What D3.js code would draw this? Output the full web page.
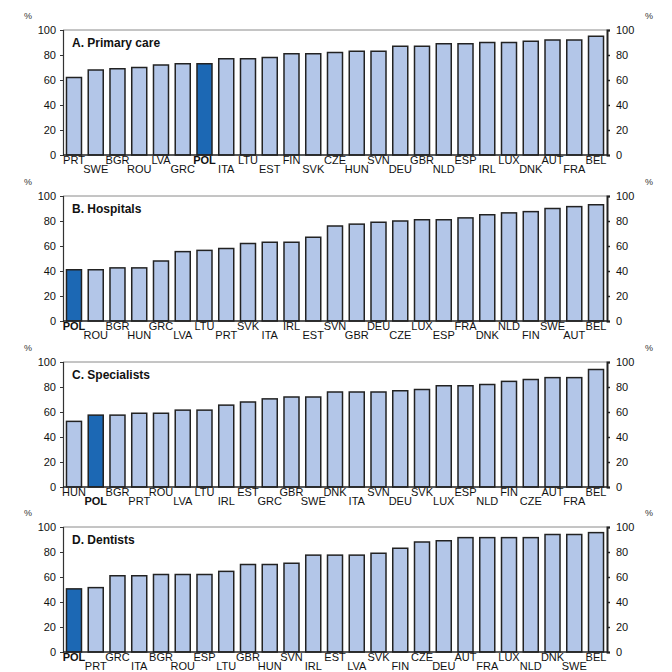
<!DOCTYPE html>
<html><head><meta charset="utf-8">
<script src="https://cdn.jsdelivr.net/npm/d3@7"></script>
<style>body{margin:0;background:#fff}svg{display:block}text{font-family:"Liberation Sans",Arial,sans-serif}</style>
</head><body>
<script>
const titles = ["A. Primary care","B. Hospitals","C. Specialists","D. Dentists"];
const countriesA = ["PRT","SWE","BGR","ROU","LVA","GRC","POL","ITA","LTU","EST","FIN","SVK","CZE","HUN","SVN","DEU","GBR","NLD","ESP","IRL","LUX","DNK","AUT","FRA","BEL"];
const valuesA = [62,68,69,70,72,73,73,77,77,78,81,81,82,83,83,87,87,89,89,90,90,91,92,92,95];
const countriesB = ["POL","ROU","BGR","HUN","GRC","LVA","LTU","PRT","SVK","ITA","IRL","EST","SVN","GBR","DEU","CZE","LUX","ESP","FRA","DNK","NLD","FIN","SWE","AUT","BEL"];
const valuesB = [41,41,42.5,42.5,48,55.5,56.5,58,62,63,63,67,76,77.5,79,80,81,81,82.5,85,86.5,87.5,90,91.5,93];
const countriesC = ["HUN","POL","BGR","PRT","ROU","LVA","LTU","IRL","EST","GRC","GBR","SWE","DNK","ITA","SVN","DEU","SVK","LUX","ESP","NLD","FIN","CZE","AUT","FRA","BEL"];
const valuesC = [52.5,57.5,57.5,59,59,61.5,61.5,65.5,68,70.5,72,72,76,76,76,77,78,81,81,82,84.5,86,87.5,87.5,94];
const countriesD = ["POL","PRT","GRC","ITA","BGR","ROU","ESP","LTU","GBR","HUN","SVN","IRL","EST","LVA","SVK","FIN","CZE","DEU","AUT","FRA","LUX","NLD","DNK","SWE","BEL"];
const valuesD = [50.5,51.5,61,61,62,62,62,64.5,70,70,71,77.5,77.5,77.5,79,83,88,89,91.5,91.5,91.5,91.5,94,94,95.5];
const yTicks = [0,20,40,60,80,100];
const highlight = "POL";

const panels = [
  {title:titles[0], c:countriesA, v:valuesA},
  {title:titles[1], c:countriesB, v:valuesB},
  {title:titles[2], c:countriesC, v:valuesC},
  {title:titles[3], c:countriesD, v:valuesD}
];

const W=672,H=672;
const svg=d3.select("body").append("svg").attr("width",W).attr("height",H);
const left=63,right=607,ph=125;
const tops=[30,196,362,527];

panels.forEach((p,i)=>{
  const top=tops[i], bottom=top+ph;
  const g=svg.append("g");
  const x=d3.scaleBand().domain(p.c).range([left,right]).paddingInner(0.31).paddingOuter(0.16);
  const y=d3.scaleLinear().domain([0,100]).range([bottom,top]);

  // frame top
  g.append("line").attr("x1",left).attr("x2",right).attr("y1",top).attr("y2",top).attr("stroke","#8a8a8a").attr("stroke-width",1);

  // bars
  g.selectAll("rect.bar").data(p.c.map((c,j)=>({c,v:p.v[j]}))).join("rect")
    .attr("x",d=>x(d.c)).attr("width",x.bandwidth())
    .attr("y",d=>y(d.v)).attr("height",d=>y(0)-y(d.v))
    .attr("fill",d=>d.c===highlight?"#1c68b4":"#b3c6e8")
    .attr("stroke","#222").attr("stroke-width",1.5);

  // left axis
  const la=g.append("g").attr("transform",`translate(${left},0)`)
    .call(d3.axisLeft(y).tickValues(yTicks).tickSize(3).tickPadding(4));
  la.select(".domain").attr("stroke","#333").attr("stroke-width",1.2);
  la.selectAll("text").attr("font-size",11).attr("fill","#111").style("font-family","'Liberation Sans',Arial,sans-serif");
  la.selectAll(".tick line").attr("stroke","#333");

  // right axis
  const ra=g.append("g").attr("transform",`translate(${right},0)`)
    .call(d3.axisRight(y).tickValues(yTicks).tickSize(3).tickPadding(6));
  ra.select(".domain").attr("stroke","#222").attr("stroke-width",2);
  ra.selectAll("text").attr("font-size",11).attr("fill","#111").style("font-family","'Liberation Sans',Arial,sans-serif");
  ra.selectAll(".tick line").attr("stroke","#222").attr("stroke-width",1.5);

  // bottom axis line
  g.append("line").attr("x1",left).attr("x2",right).attr("y1",bottom).attr("y2",bottom).attr("stroke","#222").attr("stroke-width",1.5);

  // category labels staggered
  g.selectAll("text.cat").data(p.c).join("text").attr("class","cat")
    .attr("x",c=>x(c)+x.bandwidth()/2)
    .attr("y",(c,j)=> j%2===0 ? bottom+9 : bottom+18)
    .attr("text-anchor","middle").attr("font-size",11)
    .attr("font-weight",c=>c===highlight?"bold":"normal")
    .attr("fill","#111").text(c=>c);

  // title
  g.append("text").attr("x",72).attr("y",top+17).attr("font-size",12).attr("font-weight","bold").attr("fill","#111").text(p.title);

  // % labels
  g.append("text").attr("x",24).attr("y",top-11).attr("font-size",9).style("fill","#333").text("%");
  g.append("text").attr("x",645).attr("y",top-11).attr("font-size",9).style("fill","#333").text("%");
});
</script>
</body></html>
